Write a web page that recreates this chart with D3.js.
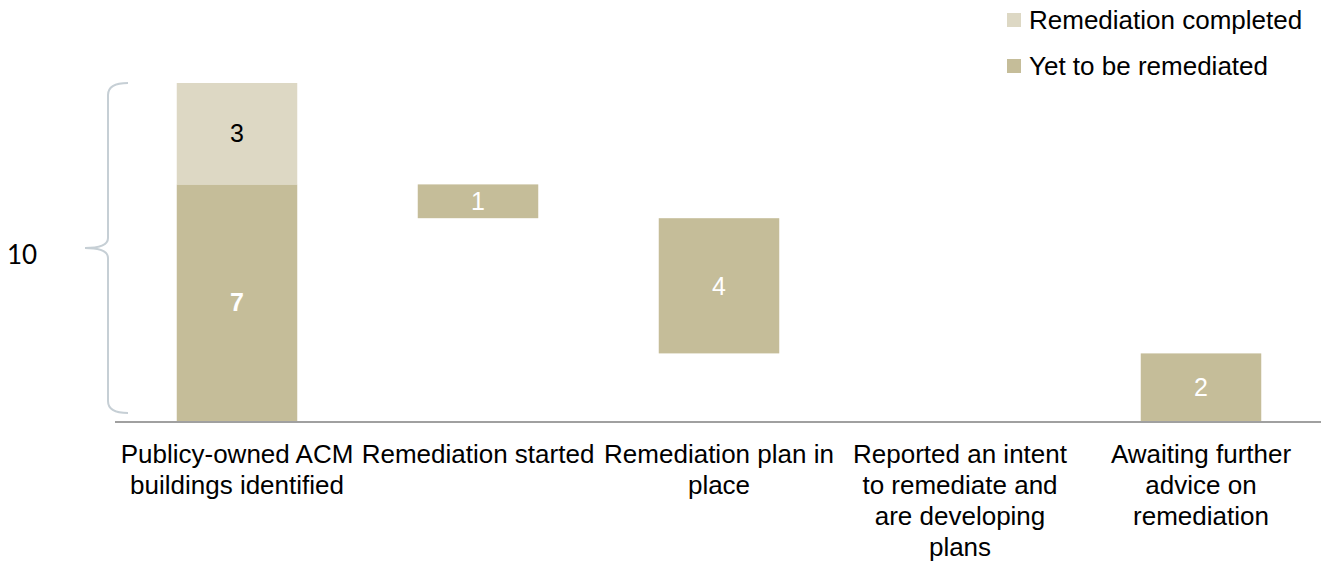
<!DOCTYPE html>
<html>
<head>
<meta charset="utf-8">
<script src="https://cdn.jsdelivr.net/npm/d3@7"></script>
<style>
	body { margin: 0; background: #fff; }
	svg { display: block; font-family: "Liberation Sans", Arial, sans-serif; }
</style>
</head>
<body>
<div id="chart"></div>
<script>
// categories ("|" marks line breaks as in the original)
var categories = [
	"Publicy-owned ACM|buildings identified",
	"Remediation started",
	"Remediation plan in|place",
	"Reported an intent|to remediate and|are developing|plans",
	"Awaiting further|advice on|remediation"
];
// stacked part of the first bar
var completed = [3, 0, 0, 0, 0];
// yet to be remediated (first bar total, then the falling steps)
var yetToRemediate = [7, 1, 4, 0, 2];
var seriesNames = ["Remediation completed", "Yet to be remediated"];
var totalLabel = "10";

var width = 1327, height = 562;
var colors = { completed: "#ddd8c4", yet: "#c5bd99" };

var svg = d3.select("#chart").append("svg")
	.attr("width", width)
	.attr("height", height);

var x = d3.scaleBand()
	.domain(categories)
	.range([116.5, 1321.5])
	.paddingInner(0.5)
	.paddingOuter(0.25);

var y = d3.scaleLinear().domain([0, 10]).range([421, 83]);

// build waterfall segments
var bars = [];
var running = 0;
categories.forEach(function (c, i) {
	if (i === 0) {
		bars.push({ cat: c, y0: 0, y1: yetToRemediate[0], value: yetToRemediate[0], fill: colors.yet, text: "#fff", bold: true });
		bars.push({ cat: c, y0: yetToRemediate[0], y1: yetToRemediate[0] + completed[0], value: completed[0], fill: colors.completed, text: "#000", bold: false });
		running = yetToRemediate[0];
	} else {
		var top = running;
		running -= yetToRemediate[i];
		if (yetToRemediate[i] > 0) {
			bars.push({ cat: c, y0: running, y1: top, value: yetToRemediate[i], fill: colors.yet, text: "#fff", bold: false });
		}
	}
});

svg.selectAll("rect.bar")
	.data(bars)
	.enter().append("rect")
	.attr("class", "bar")
	.attr("x", function (d) { return x(d.cat); })
	.attr("width", x.bandwidth())
	.attr("y", function (d) { return y(d.y1); })
	.attr("height", function (d) { return y(d.y0) - y(d.y1); })
	.attr("fill", function (d) { return d.fill; });

svg.selectAll("text.val")
	.data(bars)
	.enter().append("text")
	.attr("class", "val")
	.attr("x", function (d) { return x(d.cat) + x.bandwidth() / 2; })
	.attr("y", function (d) { return (y(d.y0) + y(d.y1)) / 2; })
	.attr("dy", "0.35em")
	.attr("text-anchor", "middle")
	.attr("font-size", 25)
	.attr("font-weight", function (d) { return d.bold ? "bold" : "normal"; })
	.attr("fill", function (d) { return d.text; })
	.text(function (d) { return d.value; });

// x axis
var axis = d3.axisBottom(x).tickSize(0).tickPadding(0).tickFormat("");
var axisG = svg.append("g")
	.attr("transform", "translate(0," + 422 + ")")
	.call(axis);
axisG.select(".domain").attr("stroke", "#a0a0a0").attr("stroke-width", 2)
	.attr("d", "M115,0H1321");

axisG.selectAll(".tick").each(function (d) {
	var t = d3.select(this).append("text")
		.attr("fill", "#000")
		.attr("font-size", 26)
		.attr("text-anchor", "middle")
		.attr("y", 41);
	d.split("|").forEach(function (line, i) {
		t.append("tspan").attr("x", 0).attr("dy", i === 0 ? 0 : 31).text(line);
	});
});

// brace for the total
var by0 = 83, by1 = 413, bym = 248, bx = 108;
var brace = d3.path();
brace.moveTo(128, by0);
brace.quadraticCurveTo(bx, by0, bx, by0 + 12);
brace.lineTo(bx, bym - 10);
brace.quadraticCurveTo(bx, bym, 85, bym);
brace.quadraticCurveTo(bx, bym, bx, bym + 10);
brace.lineTo(bx, by1 - 12);
brace.quadraticCurveTo(bx, by1, 128, by1);
svg.append("path")
	.attr("d", brace.toString())
	.attr("fill", "none")
	.attr("stroke", "#c6cfd5")
	.attr("stroke-width", 2);

svg.append("text")
	.attr("x", 7)
	.attr("y", 255)
	.attr("dy", "0.35em")
	.attr("font-family", "Lato, 'Open Sans', sans-serif")
	.attr("font-size", 26)
	.attr("fill", "#000")
	.text(totalLabel);

// legend
var legend = svg.append("g").selectAll("g")
	.data(seriesNames)
	.enter().append("g")
	.attr("transform", function (d, i) { return "translate(1007," + (20 + i * 46) + ")"; });
legend.append("rect")
	.attr("x", 0).attr("y", -7)
	.attr("width", 14).attr("height", 14)
	.attr("fill", function (d, i) { return i === 0 ? colors.completed : colors.yet; });
legend.append("text")
	.attr("x", 22)
	.attr("dy", "0.35em")
	.attr("font-size", 26)
	.attr("fill", "#000")
	.text(function (d) { return d; });
</script>
</body>
</html>
